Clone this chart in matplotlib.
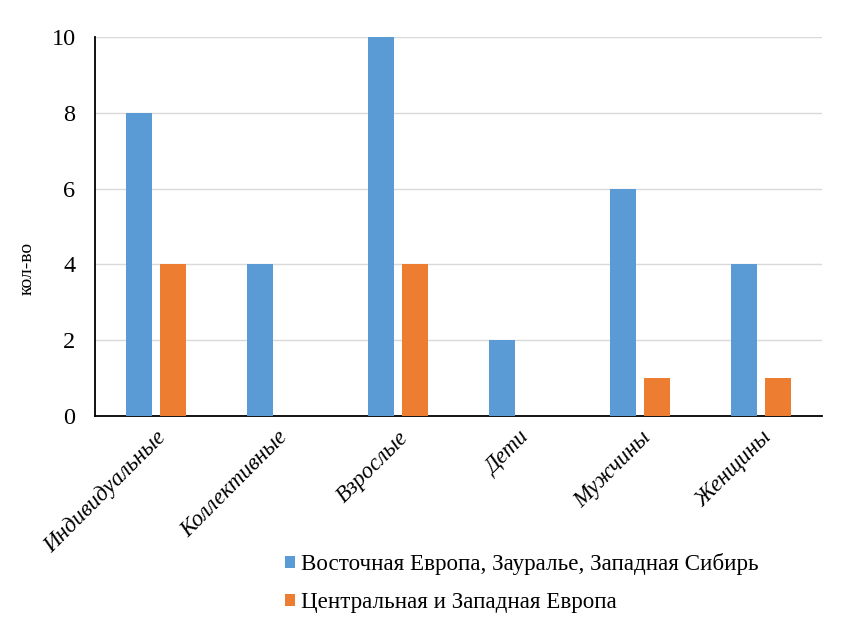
import matplotlib
matplotlib.use("Agg")
import matplotlib.pyplot as plt
import numpy as np

categories = ["Индивидуальные", "Коллективные", "Взрослые", "Дети", "Мужчины", "Женщины"]
east = [8, 4, 10, 2, 6, 4]
west = [4, 0, 4, 0, 1, 1]
series_names = ["Восточная Европа, Зауралье, Западная Сибирь", "Центральная и Западная Европа"]
yticks = [0, 2, 4, 6, 8, 10]

plt.rcParams['font.family'] = ['Liberation Serif', 'DejaVu Serif']

fig = plt.figure(figsize=(8.42, 6.2), dpi=100)
ax = fig.add_axes([95/842, 1 - 416/620, (822-95)/842, (416-37)/620])

x = np.arange(len(categories))
w = 0.215
off = 0.14
b1 = ax.bar(x - off, east, width=w, color="#5B9BD5", zorder=3, label=series_names[0])
b2 = ax.bar(x + off, west, width=w, color="#ED7D31", zorder=3, label=series_names[1])

ax.set_xlim(-0.5, len(categories) - 0.5)
ax.set_ylim(0, 10)
ax.set_yticks(yticks)
ax.set_yticklabels([str(v) for v in yticks], fontsize=17.5)
ax.yaxis.grid(True, color="#D9D9D9", linewidth=1, zorder=0)
ax.set_axisbelow(True)
for s in ["top", "right"]:
    ax.spines[s].set_visible(False)
ax.spines["left"].set_color("black")
ax.spines["bottom"].set_color("black")
ax.spines["left"].set_linewidth(1.3)
ax.spines["bottom"].set_linewidth(1.3)
ax.tick_params(axis="y", length=0, pad=14)
ax.tick_params(axis="x", length=0, pad=8)

ax.set_xticks(x)
ax.set_xticklabels(categories, rotation=45, ha="right", rotation_mode="anchor",
                   fontsize=16.5, style="italic")
ax.set_ylabel("кол-во", fontsize=14)
ax.yaxis.set_label_coords(-0.081, 0.39)

fig.legend(handles=[b1, b2], labels=series_names, loc="upper left",
           bbox_to_anchor=(285/842, 1 - 553/620), frameon=False, fontsize=16.6,
           handlelength=0.45, handleheight=0.45, handletextpad=0.25, labelspacing=0.75,
           borderaxespad=0, borderpad=0)

fig.savefig("out.png", dpi=100)
